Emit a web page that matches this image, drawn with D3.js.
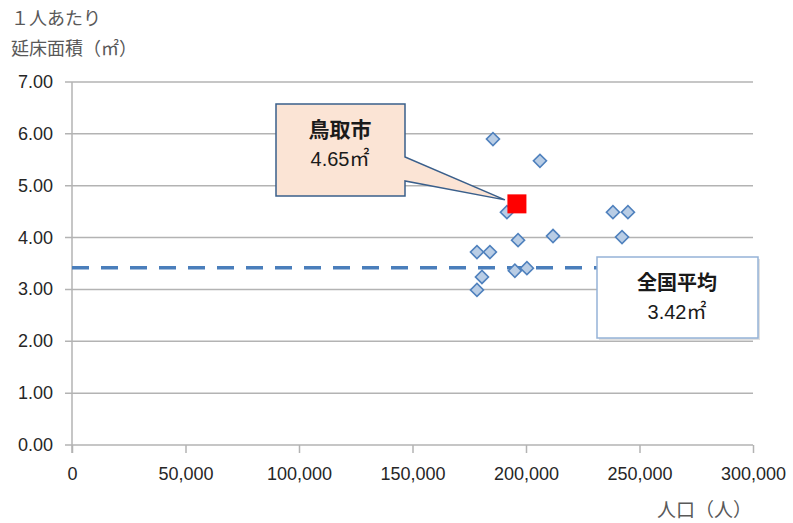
<!DOCTYPE html>
<html lang="ja">
<head>
<meta charset="UTF-8">
<title>1人あたり延床面積</title>
<script src="https://d3js.org/d3.v7.min.js"></script>
<style>
  body { margin: 0; background: #fff; }
  text { font-family: "Liberation Sans", "Noto Sans CJK JP", sans-serif; }
  .jp { font-family: "Noto Sans CJK JP", sans-serif; }
</style>
</head>
<body>
<div id="chart"></div>
<script>
// population (x) and floor area per person (y) of comparison cities
const population = [185450, 206150, 191600, 238300, 244900, 242300, 211900, 196500, 178400, 184100, 180600, 178400, 195100, 200400];
const areaPerPerson = [5.90, 5.48, 4.49, 4.49, 4.49, 4.01, 4.03, 3.95, 3.72, 3.72, 3.24, 2.99, 3.36, 3.41];

// Tottori city
const tottoriPop = [196000];
const tottoriArea = [4.65];
// national average
const nationalAvg = [3.42];

const xTicks = [0, 50000, 100000, 150000, 200000, 250000, 300000];
const yTicks = [0, 1, 2, 3, 4, 5, 6, 7];

const width = 793, height = 523;
const svg = d3.select('#chart').append('svg')
    .attr('width', width)
    .attr('height', height);

const x = d3.scaleLinear().domain([0, 300000]).range([72, 753]);
const y = d3.scaleLinear().domain([0, 7]).range([445, 82]);

const grid = '#b3b3b3';

// horizontal gridlines
svg.append('g').selectAll('line')
    .data(yTicks)
    .join('line')
    .attr('x1', 65).attr('x2', x(300000))
    .attr('y1', d => y(d)).attr('y2', d => y(d))
    .attr('stroke', grid).attr('stroke-width', 1.5);

// y axis line
svg.append('line')
    .attr('x1', x(0)).attr('x2', x(0))
    .attr('y1', y(7)).attr('y2', y(0) + 8)
    .attr('stroke', grid).attr('stroke-width', 1.5);

// x axis
const xAxis = svg.append('g')
    .attr('transform', `translate(0,${y(0)})`)
    .call(d3.axisBottom(x).tickValues(xTicks).tickSize(8).tickPadding(14)
        .tickFormat(d3.format(',')));
xAxis.select('.domain').remove();
xAxis.selectAll('line').attr('stroke', grid).attr('stroke-width', 1.5);
xAxis.attr('font-family', null).attr('font-size', null);
xAxis.selectAll('text')
    .style('font-size', '18px').attr('fill', '#262626');

// y labels
svg.append('g').selectAll('text')
    .data(yTicks)
    .join('text')
    .attr('x', 53)
    .attr('y', d => y(d) + 6)
    .attr('text-anchor', 'end')
    .style('font-size', '18px')
    .attr('fill', '#262626')
    .text(d => d3.format('.2f')(d));

// axis titles
svg.append('text').attr('x', 11).attr('y', 25)
    .attr('class', 'jp').style('font-size', '18px').attr('fill', '#595959').text('１人あたり');
svg.append('text').attr('x', 11).attr('y', 55)
    .attr('class', 'jp').style('font-size', '18px').attr('fill', '#595959').text('延床面積（㎡）');
svg.append('text').attr('x', 752).attr('y', 517)
    .attr('text-anchor', 'end').attr('class', 'jp')
    .style('font-size', '19px').attr('fill', '#595959').text('人口（人）');

// national average dashed line
svg.append('g').selectAll('line')
    .data(nationalAvg)
    .join('line')
    .attr('x1', x(0)).attr('x2', x(300000))
    .attr('y1', d => y(d)).attr('y2', d => y(d))
    .attr('stroke', '#4a7ebb').attr('stroke-width', 3.5)
    .attr('stroke-dasharray', '17,12');

// diamonds
const pts = population.map((p, i) => ({ p: p, a: areaPerPerson[i] }));
svg.append('g').selectAll('path')
    .data(pts)
    .join('path')
    .attr('d', d3.symbol().type(d3.symbolSquare).size(85))
    .attr('transform', d => `translate(${x(d.p)},${y(d.a)}) rotate(45)`)
    .attr('fill', '#b9cde5')
    .attr('stroke', '#4f81bd')
    .attr('stroke-width', 1.6);

// Tottori
const tot = tottoriPop.map((p, i) => ({ p: p, a: tottoriArea[i] }));
svg.append('g').selectAll('rect')
    .data(tot)
    .join('rect')
    .attr('x', d => x(d.p) - 9.5)
    .attr('y', d => y(d.a) - 9.5)
    .attr('width', 19).attr('height', 19)
    .attr('fill', '#ff0000');

// callout for Tottori
const tipX = x(tottoriPop[0]) - 12, tipY = y(tottoriArea[0]) - 4;
svg.append('path')
    .attr('d', `M276,104 H405 V157 L${tipX},${tipY} L405,181 V196 H276 Z`)
    .attr('fill', '#fbe4d5')
    .attr('stroke', '#3a5f8b')
    .attr('stroke-width', 1.5)
    .attr('stroke-linejoin', 'miter');
svg.append('text').attr('x', 340).attr('y', 137)
    .attr('text-anchor', 'middle').attr('class', 'jp')
    .style('font-size', '21px').attr('font-weight', 'bold')
    .attr('fill', '#1a1a1a').text('鳥取市');
svg.append('text').attr('x', 340).attr('y', 166)
    .attr('text-anchor', 'middle').style('font-size', '20px')
    .attr('fill', '#1a1a1a').text(d3.format('.2f')(tottoriArea[0]) + '㎡');

// national average box
svg.append('rect')
    .attr('x', 599).attr('y', 259).attr('width', 161).attr('height', 81)
    .attr('fill', '#e0e0e0');
svg.append('rect')
    .attr('x', 597).attr('y', 257).attr('width', 161).attr('height', 81)
    .attr('fill', '#ffffff')
    .attr('stroke', '#95b3d7').attr('stroke-width', 1.5);
svg.append('text').attr('x', 677).attr('y', 290)
    .attr('text-anchor', 'middle').attr('class', 'jp')
    .style('font-size', '20px').attr('font-weight', 'bold')
    .attr('fill', '#1a1a1a').text('全国平均');
svg.append('text').attr('x', 677).attr('y', 319)
    .attr('text-anchor', 'middle').style('font-size', '20px')
    .attr('fill', '#1a1a1a').text(d3.format('.2f')(nationalAvg[0]) + '㎡');
</script>
</body>
</html>
